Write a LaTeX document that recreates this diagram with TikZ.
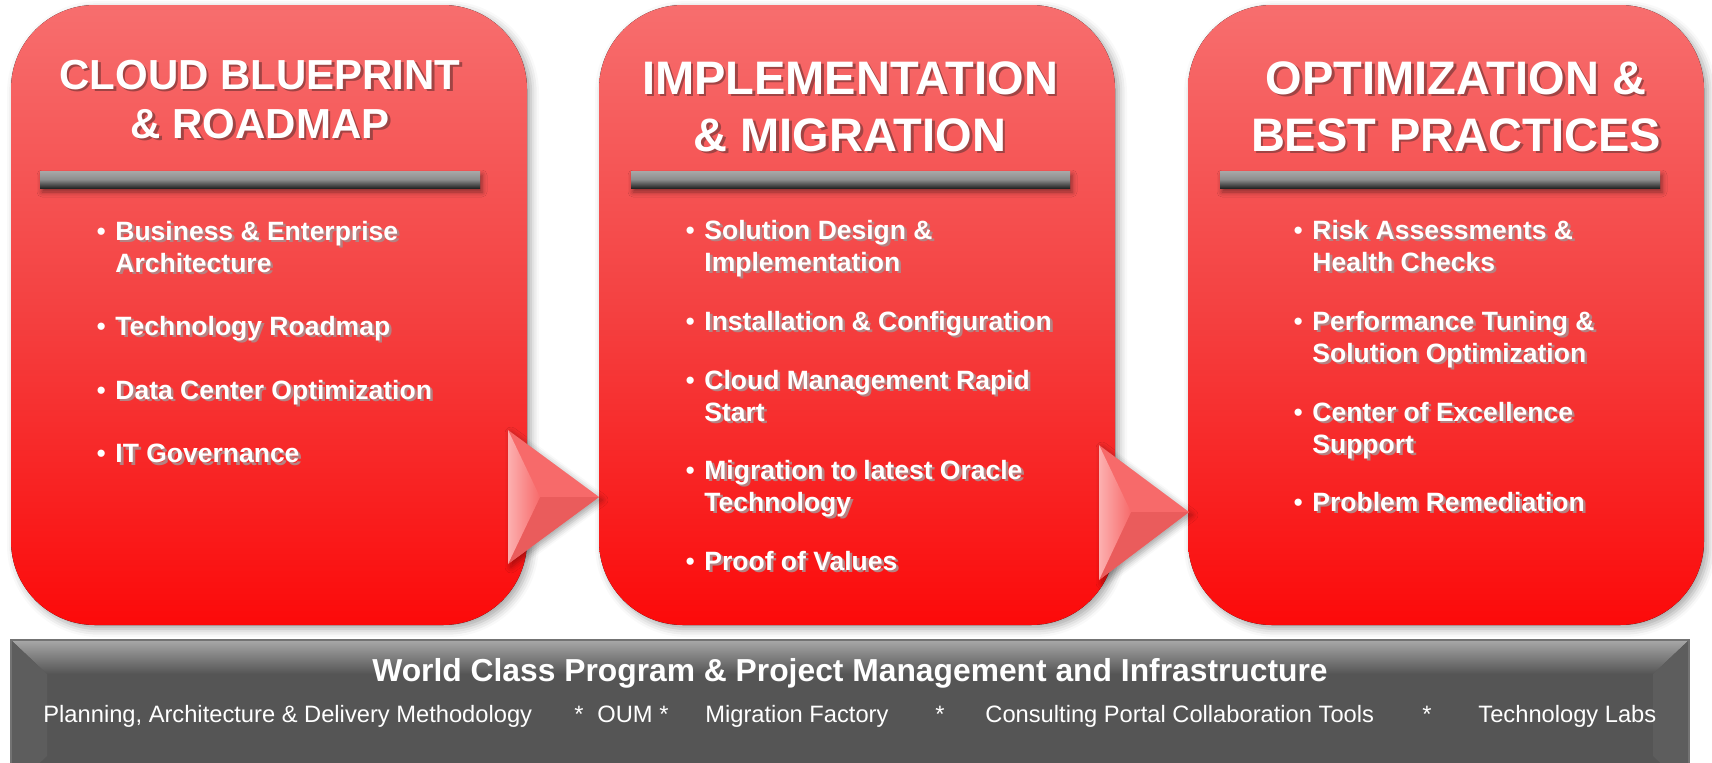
\documentclass[tikz,border=0pt]{standalone}
\usepackage{fontspec}
\setmainfont{Liberation Sans}
\usetikzlibrary{shadows.blur}

\definecolor{boxtop}{RGB}{247,110,110}
\definecolor{boxmid}{RGB}{244,64,64}
\definecolor{boxbot}{RGB}{252,10,10}
\definecolor{arrowmain}{RGB}{247,106,106}
\definecolor{arrowlow}{RGB}{234,92,92}
\definecolor{arrowlight}{RGB}{252,176,176}
\definecolor{titleshade}{RGB}{160,68,68}
\definecolor{itemshade}{RGB}{180,130,130}
\definecolor{bargray}{RGB}{85,85,85}
\definecolor{barlight}{RGB}{168,168,168}
\definecolor{barside}{RGB}{93,93,93}

\newcommand\shd[2]{\makebox[0pt][l]{\kern1.3pt\raisebox{-1.3pt}{\textcolor{#1}{#2}}}#2}
\newcommand\tsh[1]{\shd{titleshade}{#1}}
\newcommand\ish[1]{\shd{itemshade}{#1}}
\newcommand\bul{\llap{\mdseries\textbullet\hspace{4.8pt}}}

\tikzset{
  phasebox/.style={rounded corners=42pt, top color=boxtop, bottom color=boxbot, middle color=boxmid,
    blur shadow={shadow xshift=2pt, shadow yshift=-2pt, shadow blur radius=4pt, shadow opacity=35}},
  titlerule/.style={top color=barlight, bottom color=black!85, middle color=black!45,
    blur shadow={shadow xshift=1pt, shadow yshift=-2pt, shadow blur radius=2.5pt, shadow opacity=45}},
  phasetitle/.style={anchor=base, inner sep=0, text=white, font=\bfseries},
  phaseitem/.style={anchor=north west, align=left, inner sep=0, text=white,
    font=\fontsize{13.25}{16}\selectfont\bfseries},
  bartitle/.style={anchor=base, inner sep=0, text=white, font=\fontsize{15.9}{18}\selectfont\bfseries},
  baritem/.style={anchor=base west, inner sep=0, text=white, font=\fontsize{11.85}{14}\selectfont},
}

\begin{document}
\begin{tikzpicture}[x=0.5pt,y=0.5pt,yscale=-1,xscale=1]
  \useasboundingbox (0,0) rectangle (1712,762);
  \clip (0,0) rectangle (1712,762);

  % three phase boxes
  \fill[phasebox] (11,5) rectangle (527,625);
  \fill[phasebox] (599,5) rectangle (1115,625);
  \fill[phasebox] (1188,5) rectangle (1704,625);

  \fill[titlerule] (40,171) rectangle (480,188);
  \fill[titlerule] (631,171) rectangle (1070,188);
  \fill[titlerule] (1220,171) rectangle (1660,188);

  % titles
  \node[phasetitle, font=\fontsize{21}{24}\selectfont\bfseries] (blueprint1) at (260,89) {\tsh{CLOUD BLUEPRINT}};
  \node[phasetitle, font=\fontsize{21}{24}\selectfont\bfseries] (blueprint2) at (260,138) {\tsh{\& ROADMAP}};
  \node[phasetitle, font=\fontsize{23.5}{27}\selectfont\bfseries] (implement1) at (850,94) {\tsh{IMPLEMENTATION}};
  \node[phasetitle, font=\fontsize{23.5}{27}\selectfont\bfseries] (implement2) at (850,151) {\tsh{\& MIGRATION}};
  \node[phasetitle, font=\fontsize{23.5}{27}\selectfont\bfseries] (optimize1) at (1456,94) {\tsh{OPTIMIZATION \&}};
  \node[phasetitle, font=\fontsize{23.5}{27}\selectfont\bfseries] (optimize2) at (1456,151) {\tsh{BEST PRACTICES}};

  % items
  \node[phaseitem] (bp-a) at (115,220.5) {\bul\ish{Business \& Enterprise}\\\ish{Architecture}};
  \node[phaseitem] (bp-b) at (115,315.5) {\bul\ish{Technology Roadmap}};
  \node[phaseitem] (bp-c) at (115,379.5) {\bul\ish{Data Center Optimization}};
  \node[phaseitem] (bp-d) at (115,443.5) {\bul\ish{IT Governance}};

  \node[phaseitem] (im-a) at (704,219.5) {\bul\ish{Solution Design \&}\\\ish{Implementation}};
  \node[phaseitem] (im-b) at (704,310.5) {\bul\ish{Installation \& Configuration}};
  \node[phaseitem] (im-c) at (704,369.5) {\bul\ish{Cloud Management Rapid}\\\ish{Start}};
  \node[phaseitem] (im-d) at (704,459.5) {\bul\ish{Migration to latest Oracle}\\\ish{Technology}};
  \node[phaseitem] (im-e) at (704,550.5) {\bul\ish{Proof of Values}};

  \node[phaseitem] (op-a) at (1312,219.5) {\bul\ish{Risk Assessments \&}\\\ish{Health Checks}};
  \node[phaseitem] (op-b) at (1312,310.5) {\bul\ish{Performance Tuning \&}\\\ish{Solution Optimization}};
  \node[phaseitem] (op-c) at (1312,401.5) {\bul\ish{Center of Excellence}\\\ish{Support}};
  \node[phaseitem] (op-d) at (1312,491.5) {\bul\ish{Problem Remediation}};

  % arrows between the boxes
  \coordinate (a1top) at (508,430);
  \coordinate (a1tip) at (599,497);
  \coordinate (a1bot) at (508,564);
  \coordinate (a1in) at (540,497);
  \fill[arrowmain, blur shadow={shadow xshift=1.5pt, shadow yshift=-1.5pt, shadow blur radius=3pt, shadow opacity=35}] (a1top) -- (a1tip) -- (a1bot) -- cycle;
  \fill[arrowlow] (a1bot) -- (a1tip) -- (a1in) -- cycle;
  \shade[left color=arrowlight, right color=arrowmain] (a1top) -- (a1in) -- (a1bot) -- cycle;

  \coordinate (a2top) at (1099,445);
  \coordinate (a2tip) at (1189,512);
  \coordinate (a2bot) at (1099,580);
  \coordinate (a2in) at (1131,512);
  \fill[arrowmain, blur shadow={shadow xshift=1.5pt, shadow yshift=-1.5pt, shadow blur radius=3pt, shadow opacity=35}] (a2top) -- (a2tip) -- (a2bot) -- cycle;
  \fill[arrowlow] (a2bot) -- (a2tip) -- (a2in) -- cycle;
  \shade[left color=arrowlight, right color=arrowmain] (a2top) -- (a2in) -- (a2bot) -- cycle;

  % bottom bar
  \fill[bargray] (11,640) rectangle (1689,790);
  \shade[top color=barlight, bottom color=bargray] (11,640) -- (1689,640) -- (1653,674) -- (47,674) -- cycle;
  \fill[barside] (11,640) -- (47,674) -- (47,756) -- (11,790) -- cycle;
  \fill[barside] (1689,640) -- (1653,674) -- (1653,756) -- (1689,790) -- cycle;
  \draw[black!55, line width=0.6pt] (11,640) rectangle (1689,790);

  \node[bartitle] (bartitle) at (850,681) {World Class Program \& Project Management and Infrastructure};
  \node[baritem] (planning) at (43,722) {Planning, Architecture \& Delivery Methodology};
  \node[baritem] (star1) at (574,722) {*};
  \node[baritem] (oum) at (597,722) {OUM *};
  \node[baritem] (factory) at (705,722) {Migration Factory};
  \node[baritem] (star2) at (935,722) {*};
  \node[baritem] (portal) at (985,722) {Consulting Portal Collaboration Tools};
  \node[baritem] (star3) at (1422,722) {*};
  \node[baritem] (labs) at (1478,722) {Technology Labs};
\end{tikzpicture}
\end{document}
